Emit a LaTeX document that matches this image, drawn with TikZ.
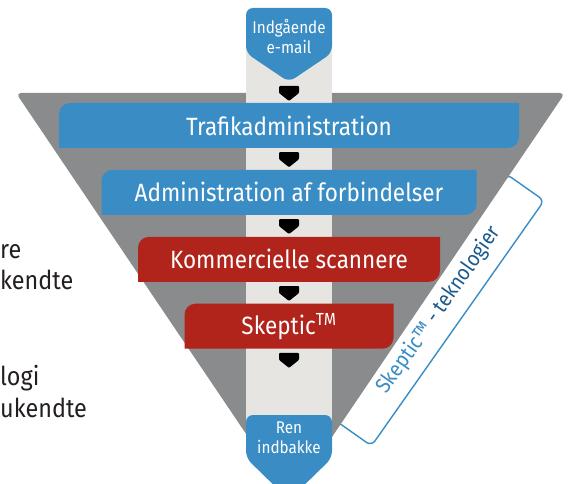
\documentclass[tikz,border=0pt]{standalone}
\usepackage{fontspec}
\setmainfont{Fira Sans}[FakeStretch=0.9]
\usetikzlibrary{positioning}
\definecolor{funnelgrey}{HTML}{898B8D}
\definecolor{lanegrey}{HTML}{E6E5E1}
\definecolor{mailblue}{HTML}{3A8DC4}
\definecolor{scanred}{HTML}{B1241B}
\definecolor{techblue}{HTML}{1D5B8F}
\definecolor{sideink}{HTML}{231F20}
\tikzset{
    stagebox/.style={minimum height=45pt, inner sep=0pt, text=white, font=\fontsize{25}{28}\selectfont,
        path picture={\fill[#1] (path picture bounding box.south west)
            -- ([yshift=-11pt]path picture bounding box.north west) arc[start angle=180, end angle=90, radius=11pt]
            -- (path picture bounding box.north east)
            -- ([yshift=11pt]path picture bounding box.south east) arc[start angle=0, end angle=-90, radius=11pt]
            -- cycle;}},
    flowtip/.style={fill=black, rounded corners=1pt},
    tagfill/.style={fill=mailblue, rounded corners=7pt},
    tagtext/.style={inner sep=0pt, text=white, align=center, font=\fontsize{17}{20}\selectfont},
    sidetext/.style={anchor=base west, inner sep=0pt, align=left, text=sideink, font=\fontsize{26}{32}\selectfont},
    node distance=21.5pt
}
\newcommand{\tipat}[1]{\fill[flowtip] (#1) +(-10,0) -- +(10,0) -- +(10,-7) -- +(0,-15) -- +(-10,-7) -- cycle;}
\begin{document}
\begin{tikzpicture}[x=1pt,y=1pt]
\useasboundingbox (0,0) rectangle (571,483);
% frame for the skeptic part, half under the funnel
\node[draw=mailblue, line width=1.4pt, fill=white, rounded corners=6pt, rotate=54.85, minimum width=300pt, minimum height=46pt, inner sep=0pt, font=\fontsize{21.5}{26}\selectfont] (tech) at (439,173) {\textcolor{mailblue}{Skeptic™} \textcolor{techblue}{- teknologier}};
% funnel and lane
\fill[funnelgrey, rounded corners=5pt] (16,390) -- (565,390) -- (290,-16) -- cycle;
\fill[lanegrey] (246,43) rectangle (332,443);

% incoming mail tag
\begin{scope}[shift={(289,452.5)}]
  \path[tagfill] (-43,-22.5) -- (-43,22.5) -- (43,22.5) -- (43,-22.5) -- (0,-51.5) -- cycle;
  \node[tagtext] (mailin) at (0,-6) {Indgående\\e-mail};
\end{scope}

\node[stagebox=mailblue, minimum width=460pt] (traffic) at (289,357.5) {Trafikadministration};
\node[stagebox=mailblue, minimum width=375pt, below=of traffic] (conn) {Administration af forbindelser};
\node[stagebox=scanred, minimum width=302pt, below=of conn] (scan) {Kommercielle scannere};
\node[stagebox=scanred, minimum width=209pt, below=of scan] (skeptic) {Skeptic\textsuperscript{TM}};

% small arrow heads between the stages
\coordinate (tip0) at (289,397);
\coordinate[below=4pt of traffic] (tip1);
\coordinate[below=4pt of conn] (tip2);
\coordinate[below=4pt of scan] (tip3);
\coordinate[below=4pt of skeptic] (tip4);
\foreach \t in {tip0,tip1,tip2,tip3,tip4} {\tipat{\t}}

% clean inbox tag
\begin{scope}[shift={(289,46.5)}]
  \path[tagfill] (-43,-21.5) -- (-43,21.5) -- (43,21.5) -- (43,-21.5) -- (0,-63.5) -- cycle;
  \node[tagtext] (inbox) at (0,-1.5) {Ren\\indbakke};
\end{scope}

\node[sidetext] (side1) at (0,193) {re\\kendte};
\node[sidetext] (side2) at (0,66) {logi\\ukendte};
\end{tikzpicture}
\end{document}
